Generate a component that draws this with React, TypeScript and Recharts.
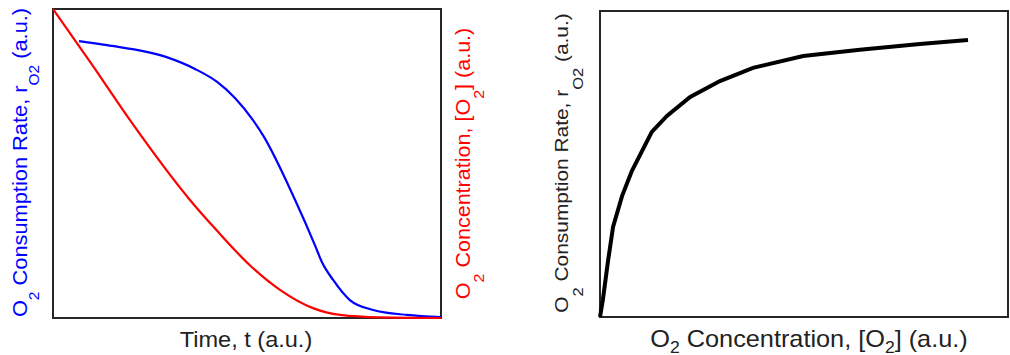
import { LineChart, Line, XAxis, YAxis, ReferenceArea } from "recharts";

// Left panel: oxygen consumption rate (blue) and oxygen concentration (red) over time
const rateTime = [6.7, 13.9, 29.1, 36.6, 42.3, 46.9, 51.5, 54.1, 62.4, 67.5, 69.3, 72.2, 76.5, 82.5, 91.2, 100];
const rateValues = [89.6, 88.3, 84.5, 80.6, 76.4, 71.2, 64.1, 59.2, 38.2, 23.6, 18.1, 12.3, 5.8, 2.6, 1.0, 0.3];

const concTime = [0, 10.1, 19.8, 35.3, 42.3, 50.8, 58.5, 67.0, 74.0, 84.3, 100];
const concValues = [100, 81.9, 64.1, 38.2, 28.2, 17.0, 9.1, 3.2, 1.0, 0.2, 0];

// Right panel: consumption rate against concentration
const satConc = [0, 0.7, 2.0, 3.2, 5.4, 7.8, 12.7, 16.4, 22.1, 29.4, 37.5, 49.8, 63.7, 78.4, 90.2];
const satRate = [0, 5.6, 18.6, 29.4, 39.5, 47.7, 60.5, 65.7, 71.9, 77.1, 81.4, 85.3, 87.3, 89.2, 90.5];

type Part = { t: string; sub?: boolean };

const rateTitle: Part[] = [
  { t: "O" }, { t: "2", sub: true }, { t: " Consumption Rate, r" }, { t: "O2", sub: true }, { t: " (a.u.)" },
];
const concTitle: Part[] = [
  { t: "O" }, { t: "2", sub: true }, { t: " Concentration, [O" }, { t: "2", sub: true }, { t: "] (a.u.)" },
];
const timeTitle: Part[] = [{ t: "Time, t (a.u.)" }];

const BLUE = "#0000ff";
const RED = "#ff0000";
const FRAME = "#262626";
const FONT = "'Liberation Sans', Arial, sans-serif";

const blueData = rateTime.map((t, i) => ({ t, v: rateValues[i] }));
const redData = concTime.map((t, i) => ({ t, v: concValues[i] }));
const blackData = satConc.map((t, i) => ({ t, v: satRate[i] }));

type TitleProps = {
  viewBox?: { x: number; y: number; width: number; height: number };
  parts: Part[];
  vertical?: boolean;
  gap: number;
  nudge?: number;
  size: number;
  subSize: number;
  shift: number;
  stretch: number;
  ink: string;
};

// Axis title with real subscripts; Label hands us the axis box as viewBox
function AxisTitle({ viewBox, parts, vertical, gap, nudge = 0, size, subSize, shift, stretch, ink }: TitleProps) {
  if (!viewBox) return null;
  const { x, y, width, height } = viewBox;
  const tx = vertical ? x + gap : x + width / 2 + nudge;
  const ty = vertical ? y + height / 2 + nudge : y + gap;
  const transform = vertical
    ? `translate(${tx},${ty}) rotate(-90) scale(${stretch},1)`
    : `translate(${tx},${ty}) scale(${stretch},1)`;
  let down = false;
  return (
    <text
      transform={transform}
      textAnchor="middle"
      fill={ink}
      fontFamily={FONT}
      fontSize={size}
      style={{ whiteSpace: "pre" }}
    >
      {parts.map((p, i) => {
        let dy = 0;
        if (p.sub && !down) { dy = shift; down = true; }
        else if (!p.sub && down) { dy = -shift; down = false; }
        return (
          <tspan key={i} dy={dy} fontSize={p.sub ? subSize : size}>
            {p.t}
          </tspan>
        );
      })}
    </text>
  );
}

function TimeCourse() {
  return (
    <LineChart width={500} height={355} margin={{ top: 9, right: 0, bottom: 0, left: 0 }}>
      <XAxis
        dataKey="t"
        type="number"
        domain={[0, 100]}
        height={37}
        tick={false}
        tickLine={false}
        axisLine={false}
        label={<AxisTitle parts={timeTitle} gap={29} nudge={-1} size={22} subSize={15} shift={7} stretch={1.07} ink="#222" />}
      />
      <YAxis
        yAxisId="left"
        domain={[0, 100]}
        width={53}
        tick={false}
        tickLine={false}
        axisLine={false}
        label={<AxisTitle parts={rateTitle} vertical gap={27} nudge={-1} size={20.5} subSize={14.5} shift={12} stretch={1.065} ink={BLUE} />}
      />
      <YAxis
        yAxisId="right"
        orientation="right"
        domain={[0, 100]}
        width={59}
        tick={false}
        tickLine={false}
        axisLine={false}
        label={<AxisTitle parts={concTitle} vertical gap={29} size={19.5} subSize={14.5} shift={14} stretch={1.105} ink={RED} />}
      />
      <ReferenceArea yAxisId="left" x1={0} x2={100} y1={0} y2={100} fill="none" stroke={FRAME} strokeWidth={2} />
      <Line yAxisId="left" data={blueData} dataKey="v" type="monotone" stroke={BLUE} strokeWidth={2.2} dot={false} isAnimationActive={false} />
      <Line yAxisId="right" data={redData} dataKey="v" type="monotone" stroke={RED} strokeWidth={2.2} dot={false} isAnimationActive={false} />
    </LineChart>
  );
}

function Saturation() {
  return (
    <LineChart width={510} height={355} margin={{ top: 11, right: 2, bottom: 0, left: 0 }}>
      <XAxis
        dataKey="t"
        type="number"
        domain={[0, 100]}
        height={38}
        tick={false}
        tickLine={false}
        axisLine={false}
        label={<AxisTitle parts={concTitle} gap={29.5} nudge={5} size={23} subSize={16} shift={6} stretch={1.1} ink="#222" />}
      />
      <YAxis
        domain={[0, 100]}
        width={100}
        tick={false}
        tickLine={false}
        axisLine={false}
        label={<AxisTitle parts={rateTitle} vertical gap={68} nudge={-1} size={19} subSize={15} shift={15} stretch={1.1} ink="#222" />}
      />
      <ReferenceArea x1={0} x2={100} y1={0} y2={100} fill="none" stroke={FRAME} strokeWidth={2} />
      <Line data={blackData} dataKey="v" type="linear" stroke="#000" strokeWidth={4} dot={false} isAnimationActive={false} />
    </LineChart>
  );
}

export default function App() {
  return (
    <div style={{ position: "absolute", left: 0, top: 0, width: 1010, height: 355, background: "#fff" }}>
      <div style={{ position: "absolute", left: 0, top: 0 }}>
        <TimeCourse />
      </div>
      <div style={{ position: "absolute", left: 500, top: 0 }}>
        <Saturation />
      </div>
    </div>
  );
}
